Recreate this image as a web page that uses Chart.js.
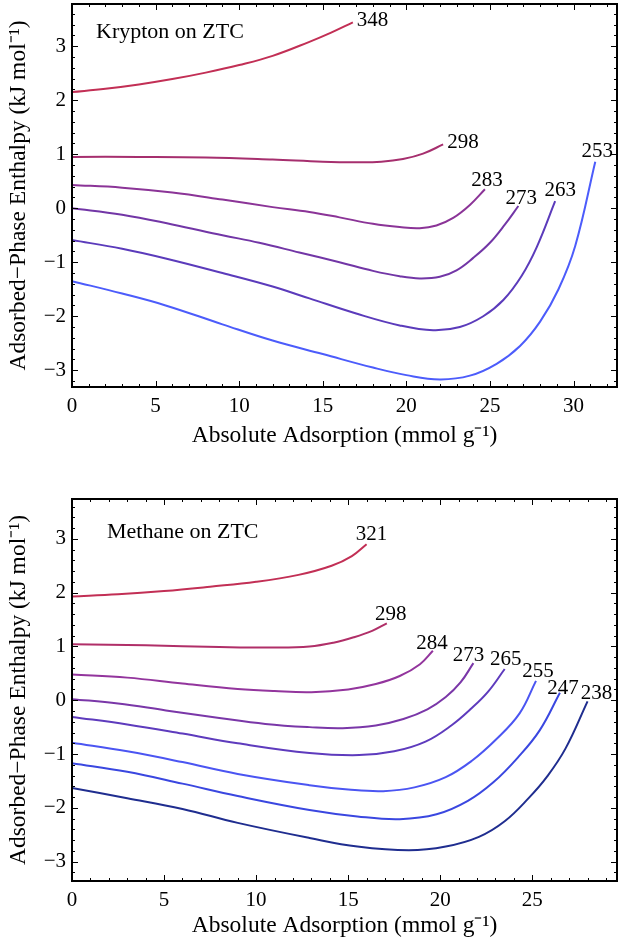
<!DOCTYPE html>
<html>
<head>
<meta charset="utf-8">
<script src="https://cdn.jsdelivr.net/npm/chart.js@4/dist/chart.umd.min.js"></script>
<style>
  body { margin: 0; background: #fff; }
  .panel { width: 619px; }
  canvas { display: block; }
</style>
</head>
<body>
<div class="panel"><canvas id="graficoKr" width="619" height="475"></canvas></div>
<div class="panel"><canvas id="graficoMe" width="619" height="474"></canvas></div>
<script>
// Marcas de los ejes
const xTicks = [0, 5, 10, 15, 20, 25, 30];
const yTicks = [-3, -2, -1, 0, 1, 2, 3];

// Kriptón sobre ZTC: [adsorción, entalpía] por temperatura (K)
const krTemps = ['348', '298', '283', '273', '263', '253'];
const kr348 = [[0, 2.15], [2, 2.21], [4, 2.29], [6, 2.39], [8, 2.51], [10, 2.65], [12, 2.82], [14.2, 3.08], [15.5, 3.25], [16.8, 3.44]];
const kr298 = [[0, 0.95], [4, 0.95], [8, 0.94], [12, 0.9], [15, 0.86], [17, 0.85], [18.5, 0.86], [19.8, 0.91], [21, 1.01], [22.2, 1.18]];
const kr283 = [[0, 0.43], [3, 0.38], [6, 0.29], [9, 0.16], [12, 0.02], [14.2, -0.07], [16, -0.17], [18, -0.29], [19.6, -0.35], [20.8, -0.37], [21.8, -0.32], [22.8, -0.18], [23.8, 0.06], [24.7, 0.35]];
const kr273 = [[0, 0.0], [3, -0.12], [6, -0.3], [9, -0.5], [11.2, -0.64], [13.6, -0.82], [16, -1.0], [18, -1.16], [19.6, -1.26], [20.8, -1.3], [22, -1.27], [23, -1.15], [24, -0.92], [25, -0.64], [25.9, -0.3], [26.7, 0.04]];
const kr263 = [[0, -0.59], [3, -0.75], [5.6, -0.93], [9, -1.2], [12, -1.45], [14.2, -1.67], [17, -1.95], [19.6, -2.17], [21.6, -2.26], [23.2, -2.2], [24.6, -2.0], [25.8, -1.7], [26.9, -1.25], [27.8, -0.72], [28.9, 0.13]];
const kr253 = [[0, -1.35], [3, -1.58], [5.6, -1.8], [9, -2.15], [12, -2.45], [15, -2.7], [18, -2.95], [20, -3.09], [22, -3.17], [23.8, -3.1], [25.4, -2.88], [26.8, -2.55], [28, -2.1], [29.1, -1.5], [30.1, -0.7], [31.3, 0.86]];

// Metano sobre ZTC
const meTemps = ['321', '298', '284', '273', '265', '255', '247', '238'];
const me321 = [[0, 1.93], [2.5, 1.97], [5, 2.03], [7.5, 2.11], [10, 2.2], [12.3, 2.33], [14.1, 2.5], [15.2, 2.68], [16, 2.9]];
const me298 = [[0, 1.04], [4, 1.02], [8, 0.99], [11, 0.98], [12.9, 1.0], [14.2, 1.07], [15.3, 1.17], [16.3, 1.29], [17.1, 1.43]];
const me284 = [[0, 0.48], [3, 0.42], [6, 0.31], [9, 0.21], [11, 0.17], [13, 0.15], [15, 0.2], [16.5, 0.3], [17.8, 0.45], [18.9, 0.67], [19.6, 0.92]];
const me273 = [[0, 0.02], [2.5, -0.06], [5.1, -0.19], [8, -0.33], [10.5, -0.44], [12.9, -0.5], [14.7, -0.52], [16.5, -0.47], [18, -0.35], [19.3, -0.17], [20.3, 0.06], [21.1, 0.33], [21.8, 0.69]];
const me265 = [[0, -0.31], [3, -0.45], [6, -0.62], [9, -0.8], [12.9, -0.98], [15.6, -1.02], [17.5, -0.95], [19.2, -0.77], [20.6, -0.47], [21.7, -0.15], [22.6, 0.16], [23.5, 0.58]];
const me255 = [[0, -0.79], [3, -0.95], [6, -1.15], [9, -1.37], [12.9, -1.58], [15, -1.66], [16.9, -1.69], [18.6, -1.62], [20.3, -1.43], [21.7, -1.13], [23, -0.74], [24.3, -0.25], [25.2, 0.36]];
const me247 = [[0, -1.17], [3, -1.33], [6, -1.55], [9, -1.78], [12.9, -2.04], [15.5, -2.16], [17.8, -2.21], [19.8, -2.12], [21.5, -1.87], [22.9, -1.52], [24.2, -1.07], [25.4, -0.56], [26.5, 0.14]];
const me238 = [[0, -1.63], [3, -1.82], [6, -2.02], [9, -2.28], [12.9, -2.56], [15.5, -2.72], [18.3, -2.79], [20.3, -2.72], [22.1, -2.54], [23.5, -2.25], [24.8, -1.82], [25.8, -1.42], [26.8, -0.9], [28, -0.02]];

const fuente = "'Liberation Serif', 'Times New Roman', serif";
Chart.defaults.font.family = fuente;
Chart.defaults.color = '#000';

const menos = v => String(v).replace('-', '\u2212');

// Marco con marcas hacia dentro, etiquetas de temperatura y rótulo interior
const marcoPlugin = {
    id: 'marco',
    afterDatasetsDraw(chart, args, opts) {
        const { ctx, chartArea: a, scales: { x, y } } = chart;
        ctx.save();
        ctx.strokeStyle = '#000';
        ctx.lineWidth = 1;
        ctx.beginPath();
        for (let v = 0; v <= x.max; v++) {
            const px = Math.round(x.getPixelForValue(v)) + 0.5;
            const len = v % 5 === 0 ? 6 : 3;
            ctx.moveTo(px, a.bottom); ctx.lineTo(px, a.bottom - len);
            ctx.moveTo(px, a.top); ctx.lineTo(px, a.top + len);
        }
        for (let k = Math.ceil(y.min * 5); k <= y.max * 5; k++) {
            const py = Math.round(y.getPixelForValue(k / 5)) + 0.5;
            const len = k % 5 === 0 ? 6 : 3;
            ctx.moveTo(a.left, py); ctx.lineTo(a.left + len, py);
            ctx.moveTo(a.right, py); ctx.lineTo(a.right - len, py);
        }
        ctx.stroke();
        ctx.lineWidth = 2;
        ctx.strokeRect(a.left, a.top, a.right - a.left, a.bottom - a.top);

        // etiquetas al final de cada curva
        ctx.fillStyle = '#000';
        ctx.font = '21px ' + fuente;
        chart.data.datasets.forEach((ds, i) => {
            const meta = chart.getDatasetMeta(i);
            const p = meta.data[meta.data.length - 1];
            const et = ds.etiqueta || {};
            if (et.lado === 'derecha') {
                ctx.textAlign = 'left';
                ctx.textBaseline = 'middle';
                ctx.fillText(ds.label, p.x + 4, p.y - 2);
            } else {
                ctx.textAlign = 'center';
                ctx.textBaseline = 'alphabetic';
                ctx.fillText(ds.label, p.x + (et.dx || 2), p.y + (et.dy || -3));
            }
        });

        ctx.font = '22px ' + fuente;
        ctx.textAlign = 'left';
        ctx.textBaseline = 'alphabetic';
        ctx.fillText(opts.texto, a.left + opts.dx, a.top + opts.dy);
        ctx.restore();
    }
};

function serie(label, puntos, color, etiqueta) {
    return {
        label: label,
        data: puntos.map(([x, y]) => ({ x, y })),
        borderColor: color,
        borderWidth: 2,
        pointRadius: 0,
        fill: false,
        tension: 0.4,
        etiqueta: etiqueta
    };
}

function crearGrafico(id, datasets, xMax, yMin, yMax, padTop, xAltura, xTituloPad, texto) {
    return new Chart(document.getElementById(id), {
        type: 'line',
        data: { datasets: datasets },
        plugins: [marcoPlugin],
        options: {
            responsive: false,
            animation: false,
            layout: { padding: { top: padTop, right: 2, left: 0, bottom: 0 } },
            plugins: {
                legend: { display: false },
                tooltip: { enabled: false },
                marco: texto
            },
            scales: {
                x: {
                    type: 'linear',
                    min: 0,
                    max: xMax,
                    afterBuildTicks: s => { s.ticks = xTicks.filter(v => v <= xMax).map(v => ({ value: v })); },
                    afterFit: s => { s.height = xAltura; s.paddingLeft = 0; s.paddingRight = 0; },
                    grid: { display: false, drawTicks: false },
                    border: { display: false },
                    ticks: { padding: 7, font: { size: 21 }, maxRotation: 0, callback: v => menos(v) },
                    title: {
                        display: true,
                        text: 'Absolute Adsorption (mmol g\u207B\u00B9)',
                        font: { size: 23.5 },
                        padding: { top: 0, bottom: xTituloPad }
                    }
                },
                y: {
                    type: 'linear',
                    min: yMin,
                    max: yMax,
                    afterBuildTicks: s => { s.ticks = yTicks.map(v => ({ value: v })); },
                    afterFit: s => { s.width = 72; s.paddingTop = 0; s.paddingBottom = 0; },
                    grid: { display: false, drawTicks: false },
                    border: { display: false },
                    ticks: { padding: 6, font: { size: 21 }, callback: v => menos(v) },
                    title: {
                        display: true,
                        text: 'Adsorbed\u2212Phase Enthalpy (kJ mol\u207B\u00B9)',
                        font: { size: 23.5 },
                        padding: { top: 5, bottom: 0 }
                    }
                }
            }
        }
    });
}

const krColores = ['#c22f55', '#a62f6e', '#8b3497', '#7236a6', '#5b3bbb', '#4c5cfb'];
const krSeries = [kr348, kr298, kr283, kr273, kr263, kr253];
const krEtiquetas = [{ lado: 'derecha' }, { lado: 'derecha' }, { dx: 2, dy: -3 }, { dx: 3, dy: -2 }, { dx: 5, dy: -5 }, { dx: 0, dy: -5 }];
crearGrafico('graficoKr',
    krTemps.map((t, i) => serie(t, krSeries[i], krColores[i], krEtiquetas[i])),
    32.6, -3.31, 3.78, 4, 88, 25,
    { texto: 'Krypton on ZTC', dx: 24, dy: 34 });

const meColores = ['#c22f55', '#b02f68', '#93359d', '#7a37a8', '#5e3bbd', '#4b55f2', '#3a47e0', '#1f2d8f'];
const meSeries = [me321, me298, me284, me273, me265, me255, me247, me238];
const meEtiquetas = [{ dx: 5, dy: -4 }, { dx: 4, dy: -3 }, { dx: -1, dy: -2 }, { dx: -5, dy: -2 }, { dx: 1, dy: -4 }, { dx: 0, dy: -4 }, { dx: 3, dy: 1 }, { dx: 9, dy: -2 }];
crearGrafico('graficoMe',
    meTemps.map((t, i) => serie(t, meSeries[i], meColores[i], meEtiquetas[i])),
    29.6, -3.36, 3.74, 24, 68, 9,
    { texto: 'Methane on ZTC', dx: 35, dy: 39 });
</script>
</body>
</html>
